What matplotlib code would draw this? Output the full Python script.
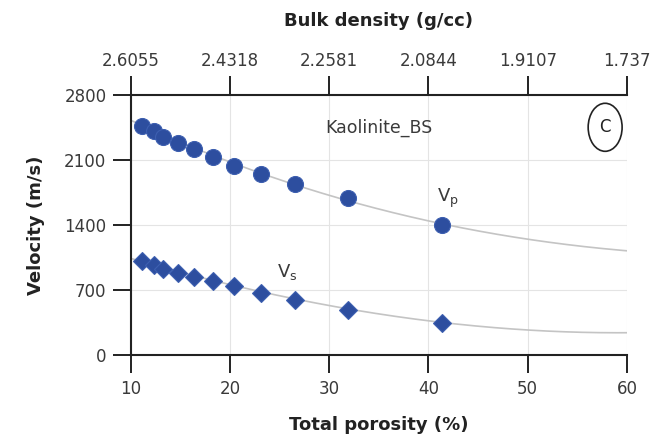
import numpy as np
import matplotlib
matplotlib.use('Agg')
import matplotlib.pyplot as plt
from matplotlib.patches import Ellipse

# data
porosity = [11.1, 12.3, 13.3, 14.8, 16.4, 18.3, 20.4, 23.1, 26.6, 31.9, 41.4]
vp = [2469, 2415, 2351, 2280, 2215, 2129, 2039, 1946, 1838, 1687, 1400]
vs = [1012, 969, 923, 886, 843, 797, 743, 671, 592, 485, 348]

# trend curves (read at a few porosities)
curve_phi = [10, 20, 30, 40, 50, 60]
vp_curve = [2530, 2070, 1730, 1440, 1246, 1123]
vs_curve = [1040, 760, 530, 370, 269, 240]

xticks = [10, 20, 30, 40, 50, 60]
density_labels = ['2.6055', '2.4318', '2.2581', '2.0844', '1.9107', '1.737']
yticks = [0, 700, 1400, 2100, 2800]

blue = '#2D4E9F'
dark = '#222222'
txt = '#3a3a3a'

plt.rcParams['font.family'] = ['DejaVu Sans']

fig = plt.figure(figsize=(6.66, 4.43), dpi=100)
ax = fig.add_axes([0.1963, 0.1986, 0.7451, 0.587])

xx = np.linspace(10, 60, 200)
pvp = np.polyfit(curve_phi, vp_curve, 3)
pvs = np.polyfit(curve_phi, vs_curve, 3)
ax.plot(xx, np.polyval(pvp, xx), color='#c4c4c4', lw=1.2, zorder=2)
ax.plot(xx, np.polyval(pvs, xx), color='#c4c4c4', lw=1.2, zorder=2)

ax.plot(porosity, vp, 'o', color=blue, ms=11.5, mec='#3d5fb0', mew=0.8, zorder=3)
ax.plot(porosity, vs, 'D', color=blue, ms=9, mec='#3d5fb0', mew=0.8, zorder=3)

ax.set_xlim(10, 60)
ax.set_ylim(0, 2800)
ax.set_xticks(xticks)
ax.set_yticks(yticks)
ax.grid(True, color='#e4e4e4', lw=0.8)
ax.set_axisbelow(True)

for s in ['top', 'right']:
    ax.spines[s].set_visible(False)
for s in ['left', 'bottom']:
    ax.spines[s].set_linewidth(1.5)
    ax.spines[s].set_color(dark)
ax.tick_params(axis='both', length=13, width=1.4, color=dark, labelsize=12, labelcolor=txt)
ax.tick_params(axis='x', pad=5)
ax.tick_params(axis='y', pad=4.5)

ax.set_xlabel('Total porosity (%)', fontsize=13, fontweight='bold', color=dark, labelpad=13)
ax.set_ylabel('Velocity (m/s)', fontsize=13, fontweight='bold', color=dark, labelpad=14)

# top axis: bulk density
top = ax.twiny()
top.set_xlim(ax.get_xlim())
top.set_xticks(xticks)
top.set_xticklabels(density_labels)
for s in ['left', 'right', 'bottom']:
    top.spines[s].set_visible(False)
top.spines['top'].set_linewidth(1.5)
top.spines['top'].set_color(dark)
top.tick_params(axis='x', length=14, width=1.4, color=dark, labelsize=12, labelcolor=txt, pad=4)
top.set_xlabel('Bulk density (g/cc)', fontsize=13, fontweight='bold', color=dark, labelpad=19)

ax.text(35.0, 2445, 'Kaolinite_BS', fontsize=12.5, color=txt, ha='center', va='center')
ax.text(40.9, 1690, r'$\mathregular{V_p}$', fontsize=13, color=txt, ha='left', va='center')
ax.text(24.75, 890, r'$\mathregular{V_s}$', fontsize=13, color=txt, ha='left', va='center')
ax.add_patch(Ellipse((57.8, 2452), 3.42, 517, fill=False, ec=dark, lw=1.2, zorder=4))
ax.text(57.8, 2452, 'C', fontsize=12, color=dark, ha='center', va='center')

fig.savefig('out.png', dpi=100)
